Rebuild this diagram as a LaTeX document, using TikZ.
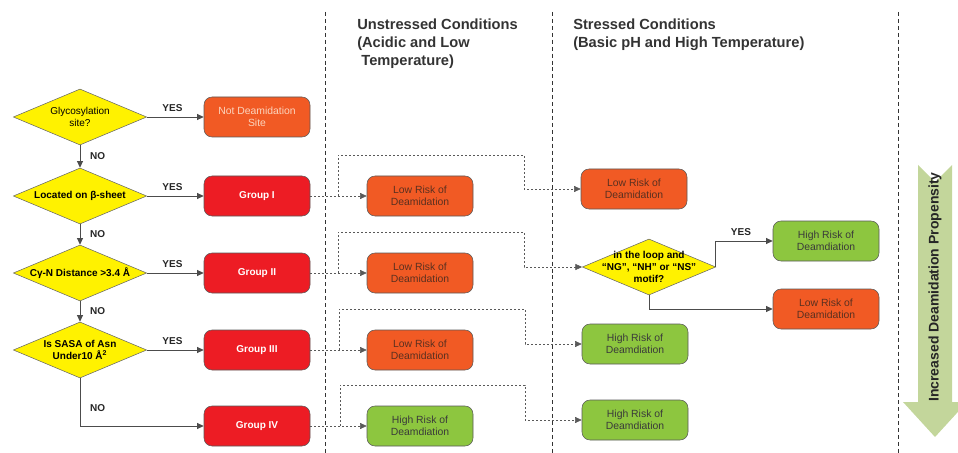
\documentclass[tikz,border=0pt]{standalone}
\usepackage{fontspec}
\setmainfont{Liberation Sans}
\usepackage{tikz}
\usetikzlibrary{positioning,arrows.meta,shapes.geometric,calc}
\usepackage{xcolor}
\definecolor{decyellow}{HTML}{FFF200}
\definecolor{riskorange}{HTML}{F15A24}
\definecolor{groupred}{HTML}{ED1C24}
\definecolor{riskgreen}{HTML}{8DC63F}
\definecolor{trendgreen}{HTML}{C3D69B}
\definecolor{lowtext}{HTML}{5A3020}
\definecolor{hightext}{HTML}{3A3A3A}
\definecolor{sitetext}{HTML}{FBD5BE}

\begin{document}
\begin{tikzpicture}[x=0.75pt, y=-0.75pt, >={Triangle[length=5pt,width=4.5pt]},
    decision/.style={diamond, draw=gray!80!black, fill=decyellow, aspect=2.4,
        minimum width=100pt, minimum height=42pt, inner sep=0pt},
    dtext/.style={font=\fontsize{7.5}{8.8}\selectfont\bfseries, align=center, inner sep=0pt},
    outcome/.style={rectangle, rounded corners=6pt, draw=gray!70!black, thin,
        minimum width=79.5pt, minimum height=30pt, align=center,
        font=\fontsize{7.8}{8.7}\selectfont},
    group/.style={outcome, fill=groupred, text=white, font=\fontsize{7.5}{8.5}\selectfont\bfseries},
    lowrisk/.style={outcome, fill=riskorange, text=lowtext},
    highrisk/.style={outcome, fill=riskgreen, text=hightext},
    flow/.style={->, draw=gray!60!black, line width=0.7pt},
    link/.style={->, draw=gray!70!black, thin, dash pattern=on 1.5pt off 1.5pt},
    divider/.style={draw=gray!40!black, thin, dash pattern=on 3pt off 2.2pt},
    answer/.style={font=\fontsize{7.5}{8.5}\selectfont\bfseries, text=black!85},
    header/.style={font=\fontsize{11}{13.5}\selectfont\bfseries, align=left, inner sep=0pt, text=black!80}]

    \useasboundingbox (0,0) rectangle (958,453);

    % Column dividers and headers
    \draw[divider] (325,12) -- (325,453);
    \draw[divider] (552,12) -- (552,453);
    \draw[divider] (898,12) -- (898,453);
    \node[header, anchor=north west] (unstressed) at (357,19)
        {Unstressed Conditions\\(Acidic and Low\\\hspace*{0.28em}Temperature)};
    \node[header, anchor=north west] (stressed) at (573,19)
        {Stressed Conditions\\(Basic pH and High Temperature)};

    % Decision diamonds
    \node[decision, label={[dtext, font=\fontsize{7.5}{8.8}\selectfont]center:{Glycosylation\\site?}}] (glyco) at (80,117) {};
    \node[decision, label={[dtext]center:{Located on β-sheet}}] (sheet) at (80,196) {};
    \node[decision, label={[dtext]center:{Cγ-N Distance >3.4 Å}}] (dist) at (80,273) {};
    \node[decision, label={[dtext]center:{Is SASA of Asn\\Under10 Å\textsuperscript{2}}}] (sasa) at (80,350) {};

    % Groups
    \node[outcome, fill=riskorange, text=sitetext] (notsite) at (257,117) {Not Deamidation\\Site};
    \node[group] (g1) at (257,196) {Group I};
    \node[group] (g2) at (257,273) {Group II};
    \node[group] (g3) at (257,350) {Group III};
    \node[group] (g4) at (257,426) {Group IV};

    % Unstressed outcomes
    \node[lowrisk] (u1) at (420,196) {Low Risk of\\Deamidation};
    \node[lowrisk] (u2) at (420,273) {Low Risk of\\Deamidation};
    \node[lowrisk] (u3) at (420,350) {Low Risk of\\Deamidation};
    \node[highrisk] (u4) at (420,426) {High Risk of\\Deamdiation};

    % Stressed outcomes
    \node[lowrisk] (s1) at (634,189) {Low Risk of\\Deamidation};
    \node[decision, label={[dtext]center:{in the loop and\\“NG”, “NH” or “NS”\\motif?}}] (motif) at (649,267) {};
    \node[highrisk] (s3) at (635,344) {High Risk of\\Deamdiation};
    \node[highrisk] (s4) at (635,420) {High Risk of\\Deamdiation};
    \node[highrisk] (myes) at (826,241) {High Risk of\\Deamdiation};
    \node[lowrisk] (mno) at (826,309) {Low Risk of\\Deamidation};

    % Decision flow
    \draw[flow] (glyco.east) -- node[answer, above, pos=0.45] {YES} (notsite.west);
    \draw[flow] (glyco.south) -- node[answer, right=4pt] {NO} (sheet.north);
    \draw[flow] (sheet.east) -- node[answer, above, pos=0.45] {YES} (g1.west);
    \draw[flow] (sheet.south) -- node[answer, right=4pt] {NO} (dist.north);
    \draw[flow] (dist.east) -- node[answer, above, pos=0.45] {YES} (g2.west);
    \draw[flow] (dist.south) -- node[answer, right=4pt] {NO} (sasa.north);
    \draw[flow] (sasa.east) -- node[answer, above, pos=0.45] {YES} (g3.west);
    \draw[flow] (sasa.south) |- node[answer, right=4pt, pos=0.31] {NO} (g4.west);
    \draw[flow] (motif.east) |- node[answer, above, pos=0.72] {YES} (myes.west);
    \draw[flow] (motif.south) |- (mno.west);

    % Conditions
    \draw[link] (g1.east) -- (u1.west);
    \draw[link] (338,196) |- (524,155) |- (s1.west);
    \draw[link] (g2.east) -- (u2.west);
    \draw[link] (338,273) |- (524,232) |- (motif.west);
    \draw[link] (g3.east) -- (u3.west);
    \draw[link] (339,350) |- (525,309) |- (s3.west);
    \draw[link] (g4.east) -- (u4.west);
    \draw[link] (340,426) |- (525,385) |- (s4.west);

    % Propensity arrow
    \fill[trendgreen] (918,165) -- (935,182) -- (952,165) -- (952,402) -- (967,402)
        -- (935,437) -- (903,402) -- (918,402) -- cycle;
    \node[rotate=90, font=\fontsize{10.5}{12}\selectfont\bfseries, text=black!85] (trend) at (935,287)
        {Increased Deamidation Propensity};
\end{tikzpicture}
\end{document}
